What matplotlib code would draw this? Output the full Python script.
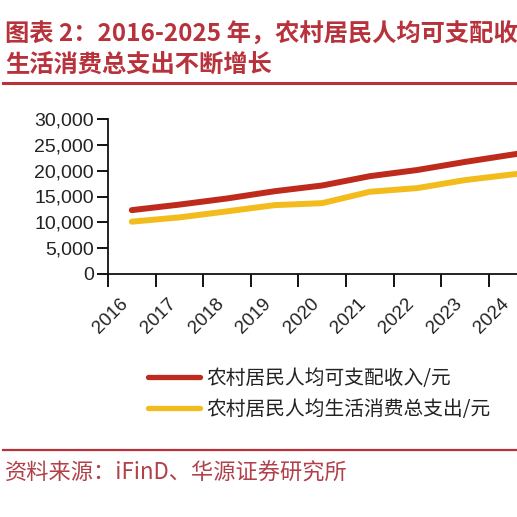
"""Rural per-capita disposable income vs consumption spending, 2016-2025."""

import matplotlib

matplotlib.use("Agg")
import matplotlib.pyplot as plt
from matplotlib.ticker import FuncFormatter

YEARS = ["2016", "2017", "2018", "2019", "2020", "2021", "2022", "2023", "2024", "2025"]
INCOME = [12363, 13432, 14617, 16021, 17131, 18931, 20133, 21691, 23119, 24456]
SPENDING = [10130, 10955, 12124, 13328, 13713, 15916, 16632, 18175, 19280, 20100]

INCOME_LABEL = "农村居民人均可支配收入/元"
SPENDING_LABEL = "农村居民人均生活消费总支出/元"
TITLE_LINE_1 = "图表 2：2016-2025 年，农村居民人均可支配收入与人均"
TITLE_LINE_2 = "生活消费总支出不断增长"
SOURCE = "资料来源：iFinD、华源证券研究所"

RED = "#BE2B1C"
YELLOW = "#F3BC1D"
TITLE_RED = "#B8323C"
CJK = ["Noto Sans CJK SC", "DejaVu Sans"]

W = 517.0
figure = plt.figure(figsize=(5.17, 5.17), dpi=100)

# title block
figure.text(5 / W, 1 - 35 / W, TITLE_LINE_1, family=CJK, fontsize=17.5,
            fontweight="bold", color=TITLE_RED, va="center", ha="left")
figure.text(5 / W, 1 - 66 / W, TITLE_LINE_2, family=CJK, fontsize=17.5,
            fontweight="bold", color=TITLE_RED, va="center", ha="left")
figure.add_artist(plt.Line2D([3 / W, 1], [1 - 83 / W, 1 - 83 / W],
                             color=TITLE_RED, linewidth=2.2))

# chart area: left at 108 px, zero line at 274 px, 30,000 at 119 px
left = 108 / W
bottom = 1 - 274 / W
height = 155 / W
width = 476 / W
axes = figure.add_axes([left, bottom, width, height])

positions = list(range(len(YEARS)))
axes.plot(positions, INCOME, color=RED, linewidth=4.3, solid_capstyle="round",
          label=INCOME_LABEL)
axes.plot(positions, SPENDING, color=YELLOW, linewidth=4.3, solid_capstyle="round",
          label=SPENDING_LABEL)

axes.set_xlim(-0.5, len(YEARS) - 0.5)
axes.set_ylim(0, 30000)
axes.set_yticks(range(0, 30001, 5000))
axes.yaxis.set_major_formatter(FuncFormatter(lambda v, _: f"{int(v):,}"))
axes.set_xticks([p - 0.5 for p in positions] + [len(YEARS) - 0.5])
axes.set_xticklabels([])
axes.set_xticks(positions, minor=True)
axes.set_xticklabels(YEARS, minor=True, rotation=45, ha="right",
                     family="Liberation Sans", fontsize=13.5, color="#222222")
axes.tick_params(axis="x", which="minor", length=0, pad=15)
axes.tick_params(axis="x", which="major", length=9, width=1.3, direction="out")
axes.tick_params(axis="y", length=8, width=1.3, direction="out", pad=2,
                 labelsize=14, labelcolor="#222222")
for label in axes.get_yticklabels():
    label.set_family("Liberation Sans")

for side in ("top", "right"):
    axes.spines[side].set_visible(False)
for side in ("left", "bottom"):
    axes.spines[side].set_linewidth(1.3)
    axes.spines[side].set_color("#111111")

handles, labels = axes.get_legend_handles_labels()
legend = figure.legend(handles, labels, loc="upper left",
                       bbox_to_anchor=(148 / W, 1 - 368 / W), frameon=False,
                       borderpad=0, borderaxespad=0,
                       handlelength=2.65, handletextpad=0.3, labelspacing=0.5,
                       prop={"family": CJK, "size": 14.2})
for text in legend.get_texts():
    text.set_color("#222222")
for line in legend.get_lines():
    line.set_linewidth(3.8)

# footer
figure.add_artist(plt.Line2D([3 / W, 1], [1 - 450 / W, 1 - 450 / W],
                             color=TITLE_RED, linewidth=1.6))
figure.text(5 / W, 1 - 473 / W, SOURCE, family=CJK, fontsize=16,
            color="#B0404A", va="center", ha="left")

figure.savefig("out.png", dpi=100, facecolor="white")
